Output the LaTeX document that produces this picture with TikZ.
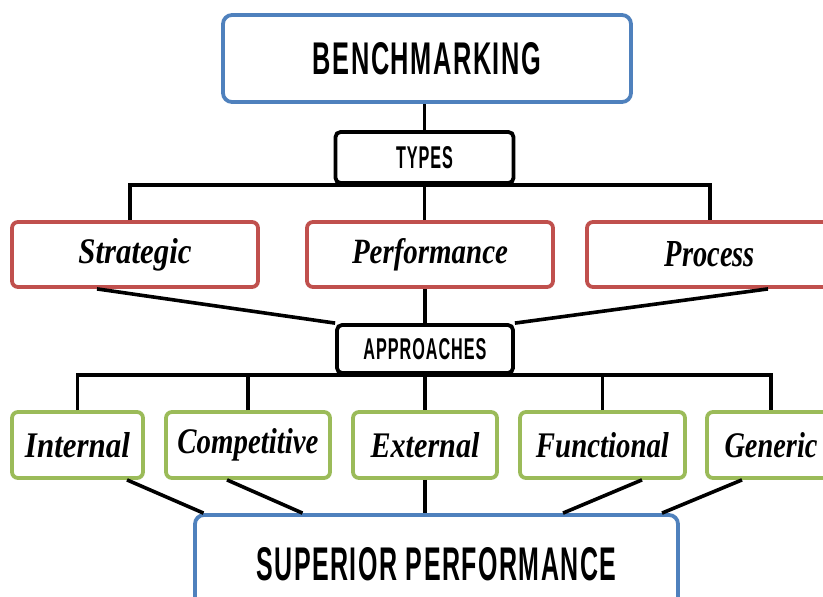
\documentclass[tikz,border=0pt]{standalone}
\usepackage{fontspec}
\usepackage{graphicx}
\newfontfamily\headfont{Liberation Sans}
\newfontfamily\scrfont{Liberation Serif}
\usetikzlibrary{calc}
\definecolor{bblue}{HTML}{4F81BD}
\definecolor{bred}{HTML}{C0504D}
\definecolor{bgreen}{HTML}{9BBB59}
\newcommand\captxt[3]{\resizebox{#1pt}{#2pt}{\headfont\bfseries\addfontfeature{LetterSpace=6}#3}}
\newcommand\scrtxt[2]{\resizebox{#1pt}{25pt}{\scrfont\bfseries\itshape #2}}
\tikzset{
  box/.style={draw, line width=3.8pt, rounded corners=6pt, inner sep=0pt, fill=white, text=black},
  bluebox/.style={box, draw=bblue, rounded corners=9pt},
  blackbox/.style={box, draw=black, rounded corners=5pt},
  redbox/.style={box, draw=bred, minimum width=246pt, minimum height=65pt},
  greenbox/.style={box, draw=bgreen, minimum height=66pt},
  conn/.style={draw=black, line width=3.6pt}
}
\begin{document}
\begin{tikzpicture}[x=1pt,y=-1pt]
\useasboundingbox (0,0) rectangle (823,597);
\clip (0,0) rectangle (823,597);
\fill[white] (0,0) rectangle (823,597);
% nodes
\node[bluebox, minimum width=408pt, minimum height=87pt] (bench) at (427,58.5) {\captxt{228}{32}{BENCHMARKING}};
\node[blackbox, minimum width=178pt, minimum height=51pt] (types) at (424.5,157.5) {\captxt{57}{22}{TYPES}};
\node[redbox] (strategic) at (135,254.5) {\scrtxt{113}{Strategic}};
\node[redbox] (performance) at (430,254.5) {\scrtxt{156}{Performance}};
\node[redbox] (process) at (710,254.5) {\scrtxt{90}{Process}};
\node[blackbox, minimum width=176pt, minimum height=48pt] (approaches) at (425,349) {\captxt{123}{21}{APPROACHES}};
\node[greenbox, minimum width=131pt] (internal) at (77.5,445) {\scrtxt{105}{Internal}};
\node[greenbox, minimum width=164pt] (competitive) at (248,445) {\scrtxt{141}{Competitive}};
\node[greenbox, minimum width=144pt] (external) at (425,445) {\scrtxt{109}{External}};
\node[greenbox, minimum width=165pt] (functional) at (602.5,445) {\scrtxt{133}{Functional}};
\node[greenbox, minimum width=128pt] (generic) at (771,445) {\scrtxt{93}{Generic}};
\node[bluebox, minimum width=483pt, minimum height=98pt] (superior) at (436.5,564) {\captxt{360}{33}{SUPERIOR PERFORMANCE}};
% connectors
\draw[conn] (types.north) -- (types.north |- bench.south);
\draw[conn] ([xshift=-5pt]strategic.north) |- (types.south) -| (process.north);
\draw[conn] (types.south) -- (types.south |- performance.north);
\draw[conn] ([xshift=-38pt]strategic.south) -- (approaches.north west);
\draw[conn] ([xshift=58pt]process.south) -- (approaches.north east);
\draw[conn] (approaches.north) -- (approaches.north |- performance.south);
\draw[conn] (internal.north) |- (approaches.south) -| (generic.north);
\draw[conn] (competitive.north) -- (competitive.north |- approaches.south);
\draw[conn] (functional.north) -- (functional.north |- approaches.south);
\draw[conn] (approaches.south) -- (external.north);
\draw[conn] ([xshift=49.5pt]internal.south) -- ([xshift=-233pt]superior.north);
\draw[conn] ([xshift=-21pt]competitive.south) -- ([xshift=-134pt]superior.north);
\draw[conn] (external.south) -- (external.south |- superior.north);
\draw[conn] ([xshift=39.5pt]functional.south) -- ([xshift=126.5pt]superior.north);
\draw[conn] ([xshift=-29pt]generic.south) -- ([xshift=225.5pt]superior.north);
\end{tikzpicture}
\end{document}
